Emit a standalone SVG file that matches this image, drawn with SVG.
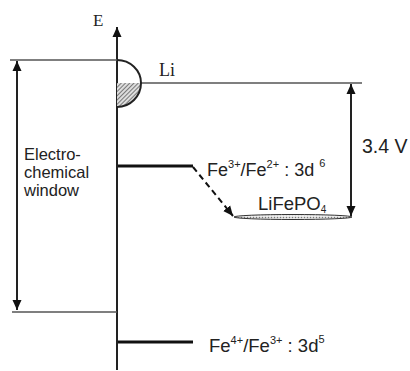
<svg xmlns="http://www.w3.org/2000/svg" width="410" height="371" viewBox="0 0 410 371">
<style>
.ser{font-family:"Liberation Serif","Times New Roman",serif;fill:#222}
.san{font-family:"Liberation Sans",Arial,sans-serif;fill:#222}
.thin{stroke:#555;stroke-width:1.5;fill:none}
.ax{stroke:#222;stroke-width:2;fill:none}
.lvl{stroke:#111;stroke-width:3;fill:none}
</style>
<defs>
<marker id="ah" viewBox="0 0 10 10" refX="10" refY="5" markerWidth="10" markerHeight="10" markerUnits="userSpaceOnUse" orient="auto-start-reverse">
<path d="M0,0.5 L10,5 L0,9.5 Z" fill="#111"/>
</marker>
<pattern id="hatch" width="3" height="3" patternUnits="userSpaceOnUse" patternTransform="rotate(45)">
<rect width="3" height="3" fill="#ddd"/>
<line x1="0" y1="0" x2="0" y2="3" stroke="#333" stroke-width="1.2"/>
</pattern>
<pattern id="dots" width="3" height="3" patternUnits="userSpaceOnUse">
<rect width="3" height="3" fill="#eee"/>
<circle cx="1.5" cy="1.5" r="0.8" fill="#777"/>
</pattern>
</defs>
<rect width="410" height="371" fill="#fff"/>
<g id="connectors">
<line class="ax" x1="117" y1="370" x2="117" y2="27" marker-end="url(#ah)"/>
<line class="thin" x1="10" y1="60" x2="117" y2="60"/>
<line class="thin" x1="12" y1="312" x2="117" y2="312"/>
<line class="thin" x1="141" y1="83" x2="362" y2="83"/>
<line class="ax" x1="17" y1="61" x2="17" y2="310" stroke-width="1.8" marker-start="url(#ah)" marker-end="url(#ah)"/>
<line class="ax" x1="351" y1="84" x2="351" y2="216" stroke-width="1.8" marker-start="url(#ah)" marker-end="url(#ah)"/>
<line x1="193" y1="167" x2="233" y2="216" stroke="#111" stroke-width="2" stroke-dasharray="6,4" marker-end="url(#ah)"/>
</g>
<g id="li">
<path d="M117,83 L141,83 A24,24 0 0 1 117,107 Z" fill="url(#hatch)"/>
<path d="M117,60 A24,23 0 0 1 141,83 A24,24 0 0 1 117,107" class="ax" stroke-width="1.8"/>
<text class="ser" x="159" y="76" font-size="18">Li</text>
</g>
<g id="axis-label"><text class="ser" x="93" y="26" font-size="17">E</text></g>
<g id="window">
<text class="san" font-size="16.5"><tspan x="24" y="160">Electro-</tspan><tspan x="24" y="178">chemical</tspan><tspan x="24" y="196">window</tspan></text>
</g>
<g id="fe32">
<line class="lvl" x1="118" y1="166" x2="193" y2="166"/>
<text class="san" x="207" y="176" font-size="18">Fe<tspan font-size="11" dy="-8">3+</tspan><tspan dy="8">/Fe</tspan><tspan font-size="11" dy="-8">2+</tspan><tspan dy="8"> : 3d </tspan><tspan font-size="11" dy="-9">6</tspan></text>
</g>
<g id="lifepo4">
<ellipse cx="293" cy="217" rx="59" ry="2.5" fill="url(#dots)" stroke="#333" stroke-width="1"/>
<text class="san" x="258" y="210" font-size="18.5">LiFePO<tspan font-size="10" dy="3">4</tspan></text>
</g>
<g id="volt"><text class="san" x="362" y="153" font-size="19.5">3.4 V</text></g>
<g id="fe43">
<line class="lvl" x1="118" y1="342" x2="193" y2="342"/>
<text class="san" x="209" y="352" font-size="18.5">Fe<tspan font-size="11" dy="-8">4+</tspan><tspan dy="8">/Fe</tspan><tspan font-size="11" dy="-8">3+</tspan><tspan dy="8"> : 3d</tspan><tspan font-size="11" dy="-9">5</tspan></text>
</g>
</svg>
